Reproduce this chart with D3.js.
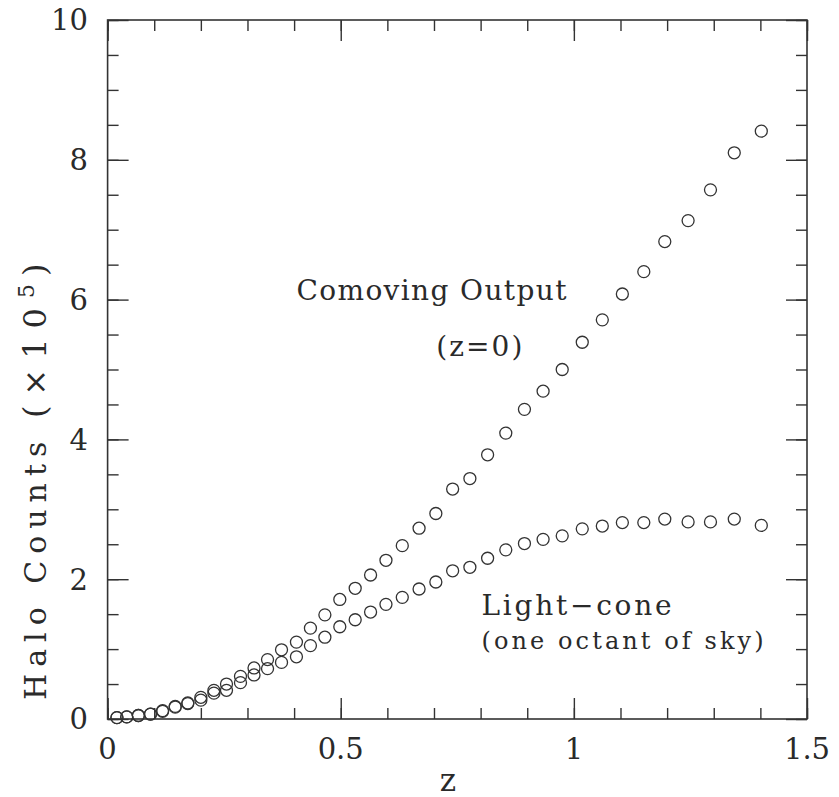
<!DOCTYPE html>
<html>
<head>
<meta charset="utf-8">
<script src="https://cdn.jsdelivr.net/npm/d3@7"></script>
<style>
  html, body { margin: 0; padding: 0; background: #fff; }
  svg { display: block; }
  text { font-family: "DejaVu Serif", serif; fill: #2a2a2a; }
</style>
</head>
<body>
<svg id="chart" width="839" height="797"></svg>
<script>
// ---- data ----
const redshift = [0.020, 0.041, 0.066, 0.092, 0.118, 0.145, 0.172, 0.200, 0.228, 0.255,
                  0.285, 0.314, 0.343, 0.373, 0.405, 0.435, 0.466, 0.498, 0.531, 0.564,
                  0.597, 0.632, 0.668, 0.704, 0.740, 0.777, 0.815, 0.854, 0.894, 0.934,
                  0.975, 1.018, 1.061, 1.104, 1.150, 1.195, 1.245, 1.293, 1.344, 1.402];
const comovingCounts = [0.02, 0.03, 0.05, 0.07, 0.12, 0.18, 0.23, 0.31, 0.41, 0.50,
                        0.61, 0.73, 0.85, 0.99, 1.10, 1.30, 1.49, 1.71, 1.87, 2.06,
                        2.27, 2.48, 2.73, 2.94, 3.29, 3.44, 3.78, 4.09, 4.43, 4.69,
                        5.00, 5.39, 5.71, 6.08, 6.40, 6.83, 7.13, 7.57, 8.10, 8.41];
const lightconeCounts = [0.02, 0.03, 0.05, 0.07, 0.11, 0.17, 0.22, 0.27, 0.37, 0.41,
                         0.52, 0.63, 0.72, 0.81, 0.89, 1.05, 1.17, 1.32, 1.42, 1.53,
                         1.64, 1.74, 1.86, 1.96, 2.12, 2.17, 2.30, 2.42, 2.51, 2.57,
                         2.62, 2.72, 2.76, 2.81, 2.81, 2.86, 2.82, 2.82, 2.86, 2.77];
const xTickLabels = [0, 0.5, 1, 1.5];
const yTickLabels = [0, 2, 4, 6, 8, 10];
const xLabel = "z";
const yLabelMain = "Halo Counts ";
const yLabelUnit = "(×10";
const yLabelExp = "5";
const yLabelEnd = ")";
const annotations = [
  { text: "Comoving Output", z: 0.405, v: 6.0 },
  { text: "(z=0)", z: 0.705, v: 5.2 },
  { text: "Light\u2212cone", z: 0.802, v: 1.49 },
  { text: "(one octant of sky)", z: 0.802, v: 1.0 }
];

// ---- layout ----
const svg = d3.select("#chart");
const L = 107.6, R = 807, T = 20, B = 719;
const x = d3.scaleLinear().domain([0, 1.5]).range([L, R]);
const y = d3.scaleLinear().domain([0, 10]).range([B, T]);
const ink = "#333";

const xMinor = d3.range(0, 1.5001, 0.1);
const yMinor = d3.range(0, 10.001, 0.5);

function styleAxis(g) {
  g.select(".domain").remove();
  g.selectAll(".tick line").attr("stroke", ink).attr("stroke-width", 1.4);
}

// minor ticks (all four sides)
svg.append("g").attr("transform", `translate(0,${B})`)
  .call(d3.axisBottom(x).tickValues(xMinor).tickSize(-11).tickFormat(""))
  .call(styleAxis);
svg.append("g").attr("transform", `translate(0,${T})`)
  .call(d3.axisTop(x).tickValues(xMinor).tickSize(-11).tickFormat(""))
  .call(styleAxis);
svg.append("g").attr("transform", `translate(${L},0)`)
  .call(d3.axisLeft(y).tickValues(yMinor).tickSize(-11).tickFormat(""))
  .call(styleAxis);
svg.append("g").attr("transform", `translate(${R},0)`)
  .call(d3.axisRight(y).tickValues(yMinor).tickSize(-11).tickFormat(""))
  .call(styleAxis);

// major ticks
svg.append("g").attr("transform", `translate(0,${B})`)
  .call(d3.axisBottom(x).tickValues(xTickLabels).tickSize(-21).tickFormat(""))
  .call(styleAxis);
svg.append("g").attr("transform", `translate(0,${T})`)
  .call(d3.axisTop(x).tickValues(xTickLabels).tickSize(-21).tickFormat(""))
  .call(styleAxis);
svg.append("g").attr("transform", `translate(${L},0)`)
  .call(d3.axisLeft(y).tickValues(yTickLabels).tickSize(-21).tickFormat(""))
  .call(styleAxis);
svg.append("g").attr("transform", `translate(${R},0)`)
  .call(d3.axisRight(y).tickValues(yTickLabels).tickSize(-21).tickFormat(""))
  .call(styleAxis);

// frame
svg.append("rect")
  .attr("x", L).attr("y", T).attr("width", R - L).attr("height", B - T)
  .attr("fill", "none").attr("stroke", ink).attr("stroke-width", 1.6);

// tick labels
svg.append("g").selectAll("text").data(xTickLabels).join("text")
  .attr("x", d => x(d)).attr("y", 759)
  .attr("text-anchor", "middle")
  .style("font-size", "29px")
  .text(d => d3.format("")(d));
svg.append("g").selectAll("text").data(yTickLabels).join("text")
  .attr("x", 88).attr("y", d => y(d))
  .attr("dy", "0.36em")
  .attr("text-anchor", "end")
  .style("font-size", "29px")
  .text(d => d);

// axis labels
svg.append("text")
  .attr("x", 448).attr("y", 791)
  .attr("text-anchor", "middle")
  .style("font-size", "31px")
  .text(xLabel);
const yl = svg.append("text")
  .attr("transform", "translate(46,700) rotate(-90)")
  .attr("text-anchor", "start")
  .style("font-size", "30px");
yl.append("tspan").style("letter-spacing", "7px").text(yLabelMain);
yl.append("tspan").style("font-size", "32px").style("letter-spacing", "10px").text(yLabelUnit);
yl.append("tspan").attr("dy", -12).style("font-size", "22px").style("letter-spacing", "8px").text(yLabelExp);
yl.append("tspan").attr("dy", 12).style("font-size", "32px").text(yLabelEnd);

// data points
function drawSeries(vals) {
  svg.append("g").selectAll("circle").data(redshift).join("circle")
    .attr("cx", d => x(d))
    .attr("cy", (d, i) => y(vals[i]))
    .attr("r", 6)
    .attr("fill", "none")
    .attr("stroke", ink)
    .attr("stroke-width", 1.3);
}
drawSeries(comovingCounts);
drawSeries(lightconeCounts);

// annotations
const annLen = [270, 86, 190, 282];
const annSize = [28, 28, 28, 24];
svg.append("g").selectAll("text").data(annotations).join("text")
  .attr("x", d => x(d.z)).attr("y", d => y(d.v))
  .attr("textLength", (d, i) => annLen[i]).attr("lengthAdjust", "spacing")
  .style("font-size", (d, i) => annSize[i] + "px")
  .text(d => d.text);
</script>
</body>
</html>
